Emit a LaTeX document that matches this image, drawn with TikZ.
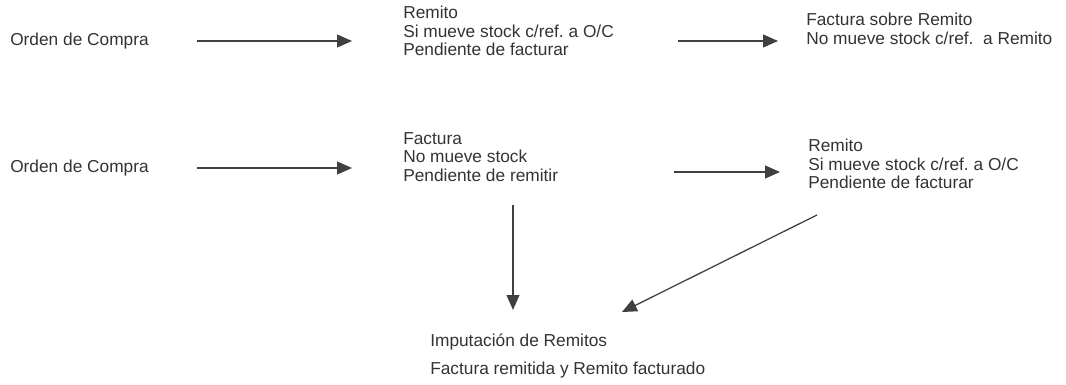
\documentclass[tikz,border=0pt]{standalone}
\usepackage{fontspec}
\setmainfont{Liberation Sans}
\usetikzlibrary{arrows.meta}
\frenchspacing

\begin{document}
\begin{tikzpicture}[x=0.025cm,y=-0.025cm,>=Latex,
  doc/.style={inner sep=0pt,anchor=west,align=left,text=black!80,font=\fontsize{12.3}{13.1}\selectfont},
  flow/.style={-{Triangle[length=3.7mm,width=3.2mm]},draw=black!75,line width=0.9pt}]
\useasboundingbox (0,0) rectangle (1066,385);
% first case
\node[doc] (oc1) at (10,41) {Orden de Compra};
\node[doc] (rem1) at (403,31) {Remito\\Si mueve stock c/ref. a O/C\\Pendiente de facturar};
\node[doc] (fsr1) at (806,29) {Factura sobre Remito\\No mueve stock c/ref.\ \ a Remito};
\draw[flow,shorten <=1.2cm,shorten >=1.275cm] (oc1.east)--(oc1.east -| rem1.west);
\draw[flow,shorten <=1.6cm,shorten >=0.7cm] (rem1.east |- oc1.east)--(fsr1.west |- oc1.east);
% second case
\node[doc] (oc2) at (10,168) {Orden de Compra};
\node[doc] (fac2) at (403,157) {Factura\\No mueve stock\\Pendiente de remitir};
\node[doc] (rem2) at (808,164) {Remito\\Si mueve stock c/ref. a O/C\\Pendiente de facturar};
\node[doc] (imp) at (430,356) {Imputación de Remitos\\[0.26cm]Factura remitida y Remito facturado};
\draw[flow,shorten <=1.2cm,shorten >=1.275cm] (oc2.east)--(oc2.east -| fac2.west);
\draw[flow,shorten <=2.9cm,shorten >=0.7cm] ([yshift=-0.1cm]fac2.east |- oc2.east)--([yshift=-0.1cm]rem2.west |- oc2.east);
\coordinate (facout) at (513,205);
\coordinate (remout) at (817,215);
\coordinate (impin) at (622,312);
\draw[flow,shorten >=0.58cm] (facout)--(facout |- imp.north);
\draw[flow] (remout)--(impin);
\end{tikzpicture}
\end{document}
